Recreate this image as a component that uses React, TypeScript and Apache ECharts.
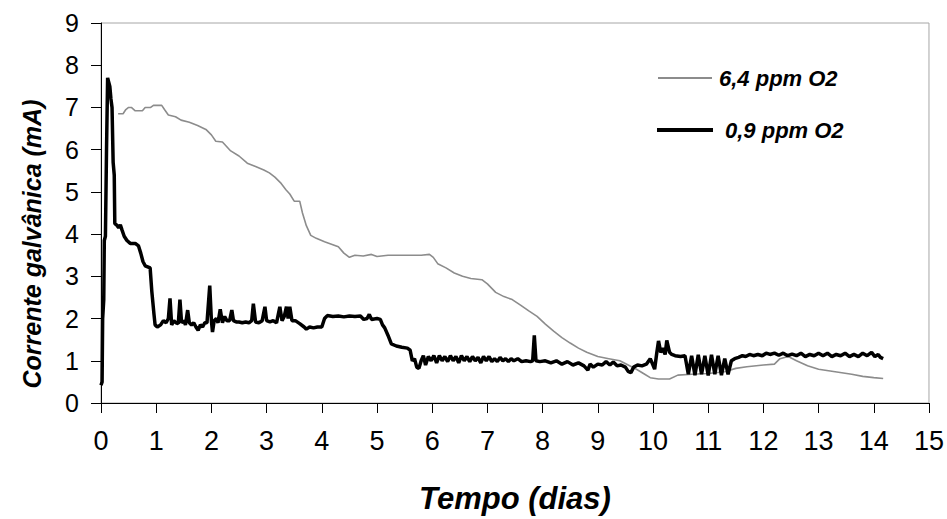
import React, { useEffect, useRef } from "react";
import * as echarts from "echarts";

const xTicks = [0, 15];
const yTicks = [0, 9];

const highO2Name = "6,4 ppm O2";
const lowO2Name = "0,9 ppm O2";

const highO2Days = [0.31,0.4,0.45,0.5,0.55,0.62,0.75,0.8,0.9,0.95,1.1,1.15,1.22,1.35,1.45,1.6,1.75,1.9,2.0,2.08,2.2,2.35,2.5,2.65,2.8,2.95,3.05,3.15,3.25,3.35,3.42,3.5,3.6,3.65,3.72,3.8,3.9,4.05,4.2,4.3,4.4,4.5,4.6,4.75,4.9,5.0,5.2,5.5,5.8,5.95,6.02,6.1,6.25,6.4,6.55,6.7,6.9,7.0,7.15,7.3,7.45,7.6,7.75,7.9,8.05,8.2,8.35,8.5,8.65,8.8,9.0,9.2,9.4,9.55,9.7,9.85,9.95,10.1,10.3,10.45,10.7,11.0,11.3,11.5,11.7,12.0,12.2,12.3,12.45,12.6,12.8,13.0,13.3,13.6,13.8,14.0,14.17];
const highO2Current = [6.85,6.85,6.95,7.0,7.0,6.92,6.92,7.0,7.0,7.05,7.05,6.95,6.82,6.78,6.7,6.65,6.57,6.48,6.35,6.2,6.18,5.97,5.85,5.68,5.6,5.52,5.45,5.35,5.22,5.05,4.95,4.78,4.78,4.5,4.2,3.97,3.9,3.82,3.75,3.7,3.55,3.45,3.5,3.48,3.52,3.47,3.5,3.5,3.5,3.52,3.45,3.3,3.2,3.08,3.0,2.95,2.92,2.82,2.62,2.52,2.45,2.32,2.18,2.05,1.87,1.7,1.55,1.42,1.3,1.2,1.1,1.05,1.0,0.9,0.8,0.68,0.6,0.57,0.57,0.66,0.68,0.7,0.74,0.82,0.86,0.9,0.92,1.05,1.1,1.0,0.88,0.8,0.74,0.68,0.63,0.6,0.58];

const lowO2Days = [0,0.02,0.03,0.05,0.06,0.08,0.1,0.12,0.14,0.16,0.18,0.2,0.22,0.24,0.25,0.28,0.32,0.35,0.38,0.42,0.47,0.53,0.62,0.68,0.72,0.76,0.8,0.89,0.92,0.96,0.98,1.02,1.08,1.13,1.18,1.22,1.25,1.28,1.32,1.36,1.4,1.43,1.46,1.5,1.53,1.57,1.6,1.64,1.68,1.72,1.76,1.8,1.84,1.88,1.92,1.97,2.0,2.02,2.05,2.09,2.12,2.16,2.2,2.24,2.28,2.33,2.37,2.4,2.45,2.5,2.56,2.62,2.68,2.73,2.76,2.8,2.86,2.92,2.97,3.0,3.06,3.12,3.18,3.24,3.28,3.32,3.36,3.39,3.42,3.46,3.52,3.6,3.68,3.72,3.78,3.85,3.92,4.0,4.05,4.1,4.2,4.3,4.4,4.5,4.6,4.7,4.76,4.82,4.86,4.9,5.0,5.06,5.1,5.14,5.2,5.26,5.35,5.45,5.55,5.6,5.64,5.68,5.72,5.76,5.8,5.84,5.88,5.93,5.98,6.03,6.08,6.13,6.18,6.23,6.28,6.33,6.38,6.43,6.48,6.53,6.58,6.63,6.68,6.73,6.78,6.83,6.88,6.93,6.98,7.03,7.08,7.13,7.18,7.23,7.28,7.33,7.38,7.43,7.48,7.55,7.62,7.7,7.78,7.82,7.85,7.88,7.95,8.05,8.15,8.25,8.35,8.45,8.55,8.65,8.75,8.82,8.86,8.92,9.0,9.08,9.15,9.22,9.28,9.35,9.42,9.5,9.55,9.6,9.65,9.72,9.8,9.88,9.95,10.0,10.03,10.07,10.1,10.14,10.18,10.22,10.25,10.3,10.34,10.4,10.5,10.58,10.64,10.7,10.76,10.82,10.88,10.94,11.0,11.06,11.12,11.18,11.24,11.3,11.36,11.42,11.48,11.55,11.62,11.68,11.75,11.82,11.9,11.98,12.05,12.12,12.2,12.28,12.36,12.44,12.52,12.6,12.68,12.76,12.84,12.92,13.0,13.08,13.16,13.24,13.32,13.4,13.48,13.56,13.64,13.72,13.8,13.88,13.96,14.02,14.08,14.12,14.17];
const lowO2Current = [0.42,0.5,2.0,2.45,3.85,3.95,6.0,7.7,7.6,7.5,7.2,7.0,5.7,5.4,4.25,4.22,4.15,4.22,4.1,3.95,3.85,3.78,3.78,3.72,3.55,3.35,3.25,3.2,2.65,2.1,1.85,1.8,1.85,1.95,1.9,2.0,2.48,1.85,1.95,1.9,1.88,2.45,1.9,1.95,1.85,2.2,1.9,1.85,1.9,1.8,1.72,1.85,1.8,1.9,1.9,2.78,1.95,1.68,1.95,2.0,1.9,2.22,1.9,2.05,1.95,1.95,2.2,1.95,1.92,1.92,1.9,1.92,1.9,1.95,2.35,1.92,1.9,1.95,2.28,1.95,1.92,1.95,1.9,2.28,1.95,2.05,2.28,2.0,2.28,1.95,1.95,1.88,1.8,1.75,1.8,1.78,1.8,1.8,2.0,2.07,2.05,2.06,2.04,2.06,2.05,2.06,1.98,2.0,2.1,1.98,2.0,1.98,1.85,1.78,1.6,1.4,1.35,1.32,1.3,1.25,1.0,1.05,0.85,0.82,1.0,1.12,0.9,1.1,1.0,1.12,0.95,1.12,1.0,1.1,0.98,1.12,1.0,1.1,0.95,1.12,1.0,1.1,0.98,1.1,1.0,1.08,0.95,1.1,1.0,1.1,0.98,1.05,0.98,1.08,1.0,1.05,0.98,1.05,1.0,1.05,0.98,1.0,0.98,1.0,1.6,1.0,0.98,1.0,0.95,1.0,0.92,0.98,0.9,0.95,0.88,0.78,0.92,0.85,0.92,0.9,0.98,0.9,0.97,0.88,0.9,0.85,0.75,0.72,0.85,0.9,0.88,0.92,1.05,0.9,0.8,1.2,1.47,1.2,1.3,1.15,1.48,1.2,1.15,1.12,1.1,1.12,0.68,1.12,0.66,1.14,0.68,1.12,0.65,1.14,0.68,1.12,0.66,1.05,0.68,1.0,1.05,1.08,1.12,1.1,1.15,1.12,1.15,1.12,1.18,1.15,1.18,1.13,1.18,1.12,1.16,1.12,1.18,1.1,1.15,1.12,1.18,1.12,1.18,1.1,1.15,1.12,1.18,1.1,1.15,1.1,1.18,1.12,1.2,1.1,1.15,1.08,1.05];

const xAxisTitle = "Tempo (dias)";
const yAxisTitle = "Corrente galvânica (mA)";

const FONT = "'Liberation Sans', Arial, sans-serif";

function pairs(xs: number[], ys: number[]) {
  return xs.map((x, i) => [x, ys[i]]);
}

export default function App() {
  const ref = useRef<HTMLDivElement>(null);
  useEffect(() => {
    document.body.style.margin = "0";
    const chart = echarts.init(ref.current!, undefined, { renderer: "svg" });
    chart.setOption({
      animation: false,
      backgroundColor: "#ffffff",
      textStyle: { fontFamily: FONT },
      grid: {
        left: 101,
        right: 18,
        top: 23,
        bottom: 113,
        show: true,
        borderColor: "#a6a6a6",
        borderWidth: 1,
      },
      legend: [
        {
          data: [{ name: highO2Name, icon: "rect" }],
          left: 653,
          top: 60,
          itemWidth: 54,
          itemHeight: 2,
          textStyle: {
            fontFamily: FONT,
            fontSize: 22,
            fontWeight: "bold",
            fontStyle: "italic",
            color: "#000",
            padding: [0, 0, 0, 2],
            lineHeight: 26,
          },
        },
        {
          data: [{ name: lowO2Name, icon: "rect" }],
          left: 652,
          top: 112,
          itemWidth: 56,
          itemHeight: 4,
          textStyle: {
            fontFamily: FONT,
            fontSize: 22,
            fontWeight: "bold",
            fontStyle: "italic",
            color: "#000",
            padding: [0, 0, 0, 7],
            lineHeight: 26,
          },
        },
      ],
      xAxis: {
        type: "value",
        min: xTicks[0],
        max: xTicks[1],
        interval: 1,
        name: xAxisTitle,
        nameLocation: "middle",
        nameGap: 80,
        nameTextStyle: {
          fontFamily: FONT,
          fontSize: 31,
          fontWeight: "bold",
          fontStyle: "italic",
          color: "#000",
        },
        axisLine: { show: true, onZero: false, lineStyle: { color: "#000", width: 1 } },
        axisTick: { show: true, length: 10, lineStyle: { color: "#000" } },
        axisLabel: { fontSize: 27, color: "#000", margin: 24, fontFamily: FONT },
        splitLine: { show: false },
      },
      yAxis: {
        type: "value",
        min: yTicks[0],
        max: yTicks[1],
        interval: 1,
        name: yAxisTitle,
        nameLocation: "middle",
        nameGap: 57,
        nameRotate: 90,
        nameTextStyle: {
          fontFamily: FONT,
          fontSize: 25,
          fontWeight: "bold",
          fontStyle: "italic",
          color: "#000",
          padding: [0, 62, 0, 0],
        },
        axisLine: { show: true, lineStyle: { color: "#000", width: 1 } },
        axisTick: { show: true, length: 10, lineStyle: { color: "#000" } },
        axisLabel: { fontSize: 25, color: "#000", margin: 22, fontFamily: FONT },
        splitLine: { show: false },
      },
      series: [
        {
          name: highO2Name,
          type: "line",
          data: pairs(highO2Days, highO2Current),
          showSymbol: false,
          symbol: "none",
          color: "#8c8c8c",
          lineStyle: { color: "#8c8c8c", width: 1.6 },
          z: 2,
        },
        {
          name: lowO2Name,
          type: "line",
          data: pairs(lowO2Days, lowO2Current),
          showSymbol: false,
          symbol: "none",
          color: "#000000",
          lineStyle: { color: "#000000", width: 3.5 },
          z: 3,
        },
      ],
    });
    return () => chart.dispose();
  }, []);
  return (
    <div
      ref={ref}
      style={{ position: "absolute", left: 0, top: 0, width: 947, height: 519 }}
    />
  );
}
